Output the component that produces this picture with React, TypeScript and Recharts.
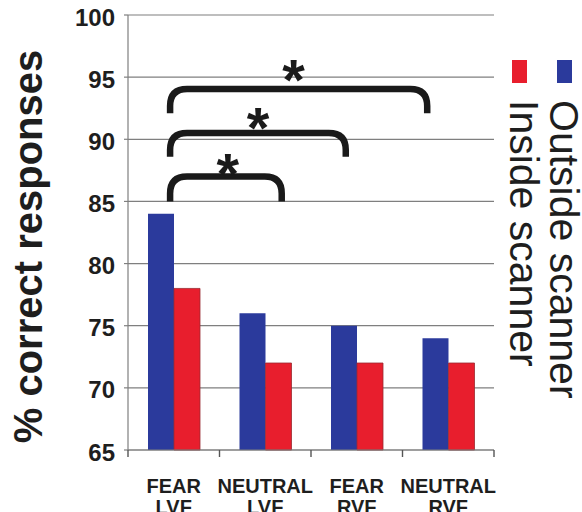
import React from "react";
import {
  BarChart,
  Bar,
  XAxis,
  YAxis,
  CartesianGrid,
  Legend,
  ReferenceArea,
  ReferenceDot,
  Label,
} from "recharts";

const FONT = "'Liberation Sans', Arial, Helvetica, sans-serif";

const groupTop = ["FEAR", "NEUTRAL", "FEAR", "NEUTRAL"];
const groupBottom = ["LVF", "LVF", "RVF", "RVF"];
const outsideScanner = [84, 76, 75, 74];
const insideScanner = [78, 72, 72, 72];
const yTicks = [65, 70, 75, 80, 85, 90, 95, 100];
// x positions in category units (0..4), y in %
const brackets = [
  { from: 0.46, to: 1.68, base: 85, top: 87, starX: 1.09, starY: 88.3 },
  { from: 0.46, to: 2.38, base: 88.6, top: 90.5, starX: 1.42, starY: 92 },
  { from: 0.46, to: 3.27, base: 92.1, top: 94.05, starX: 1.81, starY: 95.9 },
];

const data = groupTop.map((g, i) => ({
  name: g + " " + groupBottom[i],
  pos: i + 0.5,
  outside: outsideScanner[i],
  inside: insideScanner[i],
}));

const boundaryTicks = [0, 0.5, 1, 1.5, 2, 2.5, 3, 3.5, 4];

const XTick = (props: any) => {
  const { x, y, payload } = props;
  const v = Number(payload.value);
  if (Number.isInteger(v)) {
    return <line x1={x} y1={y} x2={x} y2={y + 7} stroke="#555" strokeWidth={1.4} />;
  }
  const i = Math.floor(v);
  return (
    <g fontFamily={FONT} fontWeight="bold" fontSize={20} fill="#1e1e1e" textAnchor="middle">
      <text x={x} y={y + 43}>{groupTop[i]}</text>
      <text x={x} y={y + 63.5}>{groupBottom[i]}</text>
    </g>
  );
};

const Bracket = (props: any) => {
  const { x, y, width, height } = props;
  const r = Math.min(17, height);
  const d = `M${x},${y + height} L${x},${y + r} Q${x},${y} ${x + r},${y} L${x + width - r},${y} Q${x + width},${y} ${x + width},${y + r} L${x + width},${y + height}`;
  return <path d={d} fill="none" stroke="#1a1a1a" strokeWidth={6.5} />;
};

const Star = (props: any) => {
  const { cx, cy } = props;
  return (
    <text x={cx} y={cy + 34} textAnchor="middle" fontFamily={FONT} fontWeight="bold" fontSize={58} fill="#1a1a1a">
      *
    </text>
  );
};

const LegendContent = (props: any) => {
  const payload = props.payload || [];
  return (
    <svg width={82} height={420} style={{ display: "block" }}>
      {payload.map((p: any) => {
        const right = p.dataKey === "outside";
        const bx = right ? 57 : 12;
        const tx = right ? 50 : 10;
        return (
          <g key={p.value}>
            <rect x={bx} y={60} width={15} height={23} fill={p.color} />
            <text
              x={tx}
              y={100}
              transform={`rotate(90 ${tx} 100)`}
              fontFamily={FONT}
              fontSize={41}
              fill="#1e1e1e"
            >
              {p.value}
            </text>
          </g>
        );
      })}
    </svg>
  );
};

const YLabel = (props: any) => {
  const { viewBox } = props;
  const cx = viewBox.x + 42;
  const cy = viewBox.y + viewBox.height / 2 + 14;
  return (
    <text
      x={cx}
      y={cy}
      transform={`rotate(-90 ${cx} ${cy})`}
      textAnchor="middle"
      fontFamily={FONT}
      fontWeight="bold"
      fontSize={40}
      fill="#1e1e1e"
    >
      % correct responses
    </text>
  );
};

export default function App() {
  return (
    <div style={{ position: "absolute", left: 0, top: 0, background: "#fff" }}>
      <BarChart
        width={582}
        height={512}
        data={data}
        margin={{ top: 15, right: 88, left: 0, bottom: 0 }}
        barGap={0}
      >
        <CartesianGrid xAxisId="num" vertical={false} stroke="#7f7f7f" strokeWidth={1.2} />
        <XAxis
          xAxisId="num"
          dataKey="pos"
          type="number"
          scale="linear"
          domain={[0, 4]}
          allowDataOverflow
          ticks={boundaryTicks}
          interval={0}
          tick={<XTick />}
          tickLine={false}
          tickSize={0}
          tickMargin={0}
          height={62}
          axisLine={{ stroke: "#7f7f7f", strokeWidth: 1.2 }}
        />
        <XAxis xAxisId="cat" dataKey="name" hide height={0} />
        <YAxis
          width={128}
          domain={[65, 100]}
          ticks={yTicks}
          interval={0}
          tickSize={4}
          tickMargin={9}
          tickLine={{ stroke: "#7f7f7f", strokeWidth: 1.2 }}
          axisLine={{ stroke: "#7f7f7f", strokeWidth: 1.2 }}
          tick={{ fill: "#1e1e1e", fontSize: 24, fontWeight: "bold", fontFamily: FONT, dy: 2 }}
        >
          <Label content={<YLabel />} />
        </YAxis>
        <Legend
          layout="horizontal"
          verticalAlign="middle"
          align="center"
          content={<LegendContent />}
          wrapperStyle={{ left: 500, top: 0, width: 82, height: 420 }}
        />
        <Bar
          xAxisId="cat"
          dataKey="outside"
          name="Outside scanner"
          fill="#2B3A9C"
          barSize={26}
          isAnimationActive={false}
        />
        <Bar
          xAxisId="cat"
          dataKey="inside"
          name="Inside scanner"
          fill="#E81E2D"
          stroke="#9a2a30"
          strokeWidth={0.8}
          barSize={26}
          isAnimationActive={false}
        />
        {brackets.map((b, i) => (
          <ReferenceArea
            key={"br" + i}
            xAxisId="num"
            x1={b.from}
            x2={b.to}
            y1={b.base}
            y2={b.top}
            ifOverflow="visible"
            shape={<Bracket />}
          />
        ))}
        {brackets.map((b, i) => (
          <ReferenceDot
            key={"st" + i}
            xAxisId="num"
            x={b.starX}
            y={b.starY}
            r={0}
            ifOverflow="visible"
            shape={<Star />}
          />
        ))}
      </BarChart>
    </div>
  );
}
